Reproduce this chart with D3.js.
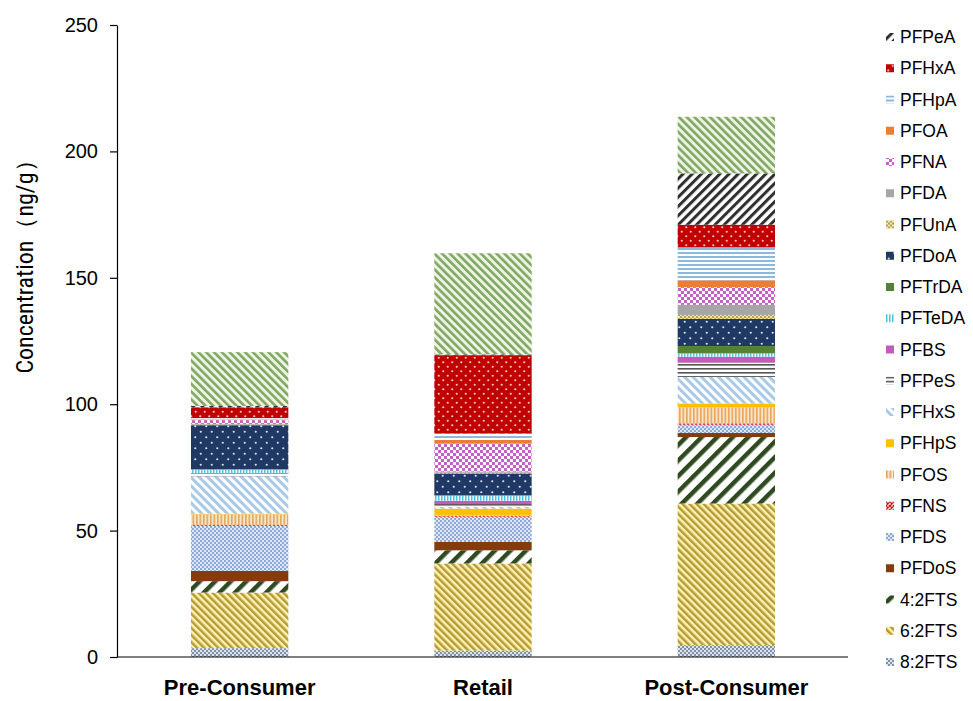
<!DOCTYPE html>
<html>
<head>
<meta charset="utf-8">
<script src="https://cdn.jsdelivr.net/npm/d3@7"></script>
<style>
  html, body { margin: 0; padding: 0; background: #fff; }
  svg { display: block; }
</style>
</head>
<body>
<svg id="chart" width="973" height="701"></svg>
<script>
// ---------------- DATA ----------------
const categories = ["Pre-Consumer", "Retail", "Post-Consumer"];

// stacking order: bottom -> top
const seriesNames = ["8:2FTS", "6:2FTS", "4:2FTS", "PFDoS", "PFDS", "PFNS", "PFOS", "PFHpS",
  "PFHxS", "PFPeS", "PFBS", "PFTeDA", "PFTrDA", "PFDoA", "PFUnA", "PFDA", "PFNA", "PFOA",
  "PFHpA", "PFHxA", "PFPeA", "PFBA"];

const v_82FTS  = [3.5, 2.5, 4.7];
const v_62FTS  = [22.0, 34.5, 56.0];
const v_42FTS  = [4.5, 5.2, 26.3];
const v_PFDoS  = [4.1, 3.3, 1.6];
const v_PFDS   = [17.8, 9.9, 3.3];
const v_PFNS   = [0.3, 0.3, 0.5];
const v_PFOS   = [4.2, 0.5, 6.3];
const v_PFHpS  = [0.3, 2.5, 1.6];
const v_PFHxS  = [14.8, 0.8, 10.5];
const v_PFPeS  = [1.0, 1.0, 5.6];
const v_PFBS   = [0.3, 1.3, 2.4];
const v_PFTeDA = [1.3, 2.0, 1.3];
const v_PFTrDA = [0.2, 0.2, 2.9];
const v_PFDoA  = [17.4, 8.6, 10.7];
const v_PFUnA  = [0.2, 0.3, 1.6];
const v_PFDA   = [0.3, 0.5, 4.0];
const v_PFNA   = [1.5, 11.0, 7.0];
const v_PFOA   = [0.3, 1.5, 2.7];
const v_PFHpA  = [0.5, 2.5, 13.0];
const v_PFHxA  = [4.3, 31.0, 9.0];
const v_PFPeA  = [0.5, 0.3, 20.3];
const v_PFBA   = [21.3, 40.0, 22.4];

const seriesValues = [v_82FTS, v_62FTS, v_42FTS, v_PFDoS, v_PFDS, v_PFNS, v_PFOS, v_PFHpS,
  v_PFHxS, v_PFPeS, v_PFBS, v_PFTeDA, v_PFTrDA, v_PFDoA, v_PFUnA, v_PFDA, v_PFNA, v_PFOA,
  v_PFHpA, v_PFHxA, v_PFPeA, v_PFBA];

// legend (top -> bottom), as shown in the reference
const legendNames = ["PFPeA", "PFHxA", "PFHpA", "PFOA", "PFNA", "PFDA", "PFUnA", "PFDoA",
  "PFTrDA", "PFTeDA", "PFBS", "PFPeS", "PFHxS", "PFHpS", "PFOS", "PFNS", "PFDS", "PFDoS",
  "4:2FTS", "6:2FTS", "8:2FTS"];

const yTicks = [0, 50, 100, 150, 200, 250];

// ---------------- RENDER ----------------
const svg = d3.select("#chart");
const defs = svg.append("defs");

const x = d3.scaleBand().domain(categories).range([118, 848]).paddingInner(0.6).paddingOuter(0.3);
const y = d3.scaleLinear().domain([0, 250]).range([657, 25]);

// pattern helpers
function pat(id, w, h, rot) {
  const p = defs.append("pattern").attr("id", id).attr("patternUnits", "userSpaceOnUse")
    .attr("width", w).attr("height", h);
  if (rot) p.attr("patternTransform", `rotate(${rot})`);
  return p;
}
function stripes(id, fg, bg, period, lw, rot) {
  const p = pat(id, period, period, rot);
  p.append("rect").attr("width", period).attr("height", period).attr("fill", bg);
  p.append("rect").attr("width", lw).attr("height", period).attr("fill", fg);
}
function hlines(id, fg, bg, period, lw) {
  const p = pat(id, 4, period);
  p.append("rect").attr("width", 4).attr("height", period).attr("fill", bg);
  p.append("rect").attr("width", 4).attr("height", lw).attr("fill", fg);
}
function vlines(id, fg, bg, period, lw) {
  const p = pat(id, period, 4);
  p.append("rect").attr("width", period).attr("height", 4).attr("fill", bg);
  p.append("rect").attr("width", lw).attr("height", 4).attr("fill", fg);
}
function dots(id, fg, bg, s, r) {
  const p = pat(id, s, s);
  p.append("rect").attr("width", s).attr("height", s).attr("fill", bg);
  p.append("circle").attr("cx", s / 4).attr("cy", s / 4).attr("r", r).attr("fill", fg);
  p.append("circle").attr("cx", 3 * s / 4).attr("cy", 3 * s / 4).attr("r", r).attr("fill", fg);
}
function checker(id, c1, c2, s) {
  const p = pat(id, 2 * s, 2 * s);
  p.append("rect").attr("width", 2 * s).attr("height", 2 * s).attr("fill", c2);
  p.append("rect").attr("width", s).attr("height", s).attr("fill", c1);
  p.append("rect").attr("x", s).attr("y", s).attr("width", s).attr("height", s).attr("fill", c1);
}
function cross(id, fg, bg, s) {
  const p = pat(id, s, s);
  p.append("rect").attr("width", s).attr("height", s).attr("fill", bg);
  p.append("path").attr("d", `M0,0L${s},${s}M${s},0L0,${s}`).attr("stroke", fg).attr("stroke-width", 1.2);
}

stripes("p_PFBA", "#7fa862", "#eef3e6", 5.5, 2.6, -45);
stripes("p_PFPeA", "#2f2f2f", "#ffffff", 6.5, 3, 45);
dots("p_PFHxA", "#f6c9c9", "#c00000", 9, 1.1);
hlines("p_PFHpA", "#8eb8d8", "#ffffff", 4, 2);
checker("p_PFNA", "#c85fc8", "#ffffff", 3);
dots("p_PFUnA", "#a08a2a", "#f2e8b0", 4, 1);
dots("p_PFDoA", "#d6e0f0", "#203864", 11, 1.1);
vlines("p_PFTeDA", "#4ec3e0", "#ffffff", 3, 1.5);
hlines("p_PFPeS", "#555555", "#ffffff", 4, 1.6);
stripes("p_PFHxS", "#a9c9e8", "#ffffff", 6, 3, -45);
vlines("p_PFOS", "#e7a65e", "#fbe3c8", 3.5, 1.6);
cross("p_PFNS", "#c00000", "#ffffff", 4);
checker("p_PFDS", "#8ea9d8", "#dfe7f5", 2);
stripes("p_42FTS", "#2e4a1e", "#ffffff", 11, 4.5, 45);
stripes("p_62FTS", "#b59a35", "#fff2b3", 5, 2.5, -45);
checker("p_82FTS", "#8090a8", "#dde3ec", 2);

const fills = {
  "PFBA": "url(#p_PFBA)", "PFPeA": "url(#p_PFPeA)", "PFHxA": "url(#p_PFHxA)", "PFHpA": "url(#p_PFHpA)",
  "PFOA": "#ed7d31", "PFNA": "url(#p_PFNA)", "PFDA": "#a6a6a6", "PFUnA": "url(#p_PFUnA)",
  "PFDoA": "url(#p_PFDoA)", "PFTrDA": "#548235", "PFTeDA": "url(#p_PFTeDA)", "PFBS": "#c55ab8",
  "PFPeS": "url(#p_PFPeS)", "PFHxS": "url(#p_PFHxS)", "PFHpS": "#ffc000", "PFOS": "url(#p_PFOS)",
  "PFNS": "url(#p_PFNS)", "PFDS": "url(#p_PFDS)", "PFDoS": "#843c0c", "4:2FTS": "url(#p_42FTS)",
  "6:2FTS": "url(#p_62FTS)", "8:2FTS": "url(#p_82FTS)"
};

// build table for d3.stack
const table = categories.map((c, i) => {
  const row = { category: c };
  seriesNames.forEach((s, k) => { row[s] = seriesValues[k][i]; });
  return row;
});
const stacked = d3.stack().keys(seriesNames)(table);

const gBars = svg.append("g");
stacked.forEach(layer => {
  gBars.append("g").attr("fill", fills[layer.key])
    .selectAll("rect").data(layer).join("rect")
    .attr("x", d => x(d.data.category))
    .attr("width", x.bandwidth())
    .attr("y", d => y(d[1]))
    .attr("height", d => Math.max(0, y(d[0]) - y(d[1])));
});

// axes
const yAxis = d3.axisLeft(y).tickValues(yTicks).tickSize(7).tickPadding(12).tickSizeOuter(0);
const gy = svg.append("g").attr("transform", "translate(117,0)").call(yAxis);
gy.select(".domain").attr("stroke", "#000").attr("stroke-width", 1.2);
gy.selectAll(".tick line").attr("stroke", "#000").attr("stroke-width", 1.2);
gy.selectAll(".tick text").attr("font-family", "Arial, 'Liberation Sans', sans-serif")
  .attr("font-size", 20).attr("fill", "#000");

const xAxis = d3.axisBottom(x).tickSize(0).tickPadding(22).tickSizeOuter(0);
const gx = svg.append("g").attr("transform", "translate(0,657)").call(xAxis);
gx.select(".domain").attr("stroke", "#000").attr("stroke-width", 1.2).attr("d", "M117,0H848");
gx.selectAll(".tick text").attr("font-family", "Arial, 'Liberation Sans', sans-serif")
  .attr("font-size", 22).attr("font-weight", "bold").attr("fill", "#000");

// y label
svg.append("text")
  .attr("transform", "translate(33,261) rotate(-90)")
  .attr("text-anchor", "middle")
  .attr("font-family", "'Liberation Sans Narrow', 'Arial Narrow', 'Roboto Condensed', Arial, sans-serif")
  .attr("font-size", 24)
  .attr("fill", "#000")
  .text("Concentration（ng/g）");

// legend
const legendY = d3.scalePoint().domain(legendNames).range([37, 662]);
const gL = svg.append("g");
legendNames.forEach(n => {
  const g = gL.append("g").attr("transform", `translate(886,${legendY(n)})`);
  g.append("rect").attr("x", 0).attr("y", -4).attr("width", 8).attr("height", 8).attr("fill", fills[n]);
  g.append("text").attr("x", 14).attr("y", 0).attr("dy", "0.35em")
    .attr("font-family", "Arial, 'Liberation Sans', sans-serif").attr("font-size", 17.5)
    .attr("fill", "#000").text(n);
});
</script>
</body>
</html>
